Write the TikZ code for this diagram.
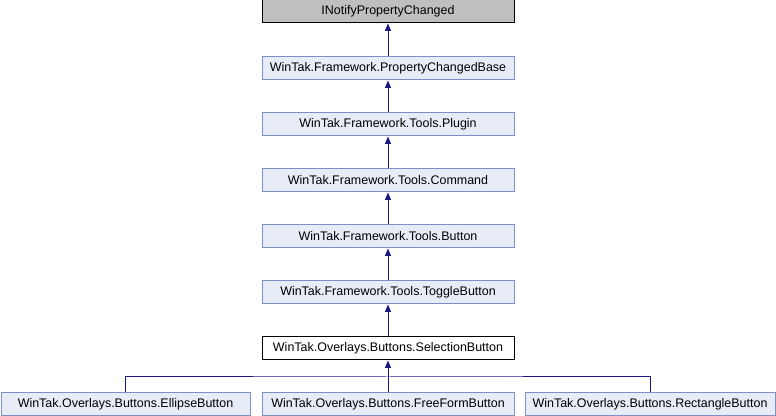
\documentclass[tikz,border=0pt]{standalone}
\usepackage{fontspec}
\setmainfont{Liberation Sans}
\usetikzlibrary{arrows.meta}
\definecolor{boxfill}{HTML}{E8ECF6}
\definecolor{boxline}{HTML}{7C8FC6}
\definecolor{edgecol}{HTML}{191980}
\definecolor{extfill}{HTML}{BFBFBF}
\tikzset{
  cls/.style={draw=boxline, fill=boxfill, line width=0.75pt, minimum width=252*0.75pt, minimum height=23*0.75pt, inner sep=0pt, font=\fontsize{9.35}{11}\selectfont},
  ext/.style={cls, draw=black, fill=extfill},
  cur/.style={cls, draw=black, fill=white},
  inh/.style={draw=edgecol, line width=0.75pt, -{Triangle[length=5.5pt,width=4.5pt]}},
}
\begin{document}
\begin{tikzpicture}[x=0.75pt,y=-0.75pt]
\useasboundingbox (0,0) rectangle (776,416);
\node[ext] (inpc) at (388,11.5) {INotifyPropertyChanged};
\node[cls] (pcb) at (388,68.5) {WinTak.Framework.PropertyChangedBase};
\node[cls] (plugin) at (388,124.5) {WinTak.Framework.Tools.Plugin};
\node[cls] (cmd) at (388,180.5) {WinTak.Framework.Tools.Command};
\node[cls] (btn) at (388,236.5) {WinTak.Framework.Tools.Button};
\node[cls] (tog) at (388,292.5) {WinTak.Framework.Tools.ToggleButton};
\node[cur] (sel) at (388,348.5) {WinTak.Overlays.Buttons.SelectionButton};
\node[cls, minimum width=249*0.75pt] (ell) at (125.5,404.5) {WinTak.Overlays.Buttons.EllipseButton};
\node[cls] (ff) at (388,404.5) {WinTak.Overlays.Buttons.FreeFormButton};
\node[cls, minimum width=250*0.75pt] (rect) at (650,404.5) {WinTak.Overlays.Buttons.RectangleButton};
\draw[inh] (pcb) -- (inpc);
\draw[inh] (plugin) -- (pcb);
\draw[inh] (cmd) -- (plugin);
\draw[inh] (btn) -- (cmd);
\draw[inh] (tog) -- (btn);
\draw[inh] (sel) -- (tog);
\coordinate (bar) at (388,377);
\draw[inh] (ff) -- (sel);
\draw[draw=edgecol, line width=0.75pt] (ell.north) |- (bar) -| (rect.north);
\end{tikzpicture}
\end{document}
